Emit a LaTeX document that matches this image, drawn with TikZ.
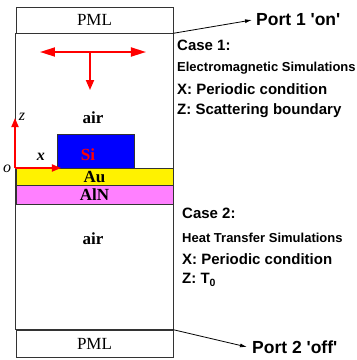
\documentclass[tikz,border=0pt]{standalone}
\usepackage{fontspec}
\setmainfont{Liberation Serif}
\setsansfont{Liberation Sans}
\usetikzlibrary{arrows.meta, positioning}

\begin{document}
\begin{tikzpicture}[x=1pt, y=-1pt,
    strip/.style={rectangle, draw=black!80, line width=0.6pt, minimum width=157pt,
                  inner sep=0pt, font=\fontsize{17}{17}\selectfont},
    layer/.style={strip, font=\fontsize{17}{17}\selectfont\bfseries},
    matname/.style={font=\fontsize{17}{17}\selectfont\bfseries, inner sep=0pt},
    note/.style={anchor=west, inner sep=0pt, font=\sffamily\bfseries\fontsize{15}{15}\selectfont},
    small/.style={note, font=\sffamily\bfseries\fontsize{13}{13}\selectfont},
    wave/.style={red, line width=1.8pt},
    axis/.style={red, line width=1.8pt, -{Triangle[length=9pt,width=7pt]}},
    port/.style={-{Latex[length=7pt,width=4pt]}, line width=0.8pt}
]
\useasboundingbox (0,0) rectangle (357,360);

% simulation domain
\node[strip, minimum height=25.5pt] (pmltop) at (94.5,20.25) {PML};
\node[strip, minimum height=27.5pt] (pmlbot) at (94.5,343.75) {PML};
\draw[draw=black!80, line width=0.6pt] (pmltop.south west) rectangle (pmlbot.north east);

\node[layer, fill=yellow, minimum height=17pt] (au) at (94.5,176.5) {Au};
\node[layer, fill={rgb,255:red,255;green,128;blue,255}, minimum height=19pt] (aln) at (94.5,194.5) {AlN};
\node[rectangle, draw=black!80, line width=0.6pt, fill=blue, minimum width=77pt,
      minimum height=34pt, inner sep=0pt] (si) at (95.5,151) {};
\node[matname, text=red] (silabel) at (88,155) {Si};
\node[matname] (airtop) at (93,118) {air};
\node[matname] (airbot) at (93,239) {air};

% incident wave
\coordinate (wl) at (40,52);
\coordinate (wr) at (146,52);
\coordinate (wm) at (90,52);
\coordinate (wd) at (90,90);
\draw[wave, {Triangle[length=15pt,width=9pt]}-{Triangle[length=15pt,width=9pt]}] (wl) -- (wr);
\draw[wave, -{Triangle[length=10pt,width=8pt]}] (wm) -- (wd);

% axes
\coordinate (o) at (15,168);
\coordinate (zend) at (15,118);
\coordinate (xend) at (61,168);
\draw[axis] (o) -- (zend);
\draw[axis] (o) -- (xend);
\node[font=\fontsize{16}{16}\selectfont\itshape, inner sep=0pt] (zlab) at (22,117) {z};
\node[font=\fontsize{16}{16}\selectfont\itshape\bfseries, inner sep=0pt] (xlab) at (41,157) {x};
\node[font=\fontsize{16}{16}\selectfont\itshape, inner sep=0pt] (olab) at (7,169) {o};

% ports
\node[note, font=\sffamily\bfseries\fontsize{17.5}{17.5}\selectfont] (port1) at (256,20) {Port 1 \textquotesingle on\textquotesingle};
\node[note, font=\sffamily\bfseries\fontsize{17.5}{17.5}\selectfont] (port2) at (252,347) {Port 2 \textquotesingle off\textquotesingle};
\draw[port] (pmltop.south east) -- ([xshift=-4pt]port1.west);
\draw[port] (pmlbot.north east) -- ([xshift=-5pt]port2.west);

% boundary conditions
\node[note] (case1) at (177,45) {Case 1:};
\node[small] (em) at (177,68) {Electromagnetic Simulations};
\node[note] (em1) at (177,89) {X: Periodic condition};
\node[note] (em2) at (177,111) {Z: Scattering boundary};

\node[note] (case2) at (182,213) {Case 2:};
\node[small] (ht) at (182,238) {Heat Transfer Simulations};
\node[note] (ht1) at (182,259) {X: Periodic condition};
\node[note] (ht2) at (182,280) {Z: T\textsubscript{0}};
\end{tikzpicture}
\end{document}
